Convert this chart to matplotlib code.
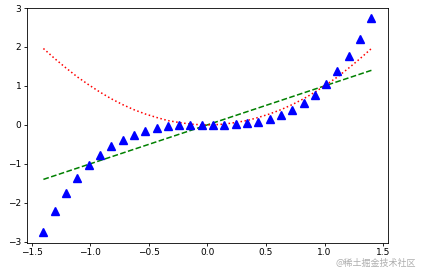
import matplotlib
matplotlib.use('Agg')
import matplotlib.pyplot as plt

# x grid (30 evenly spaced points from -1.4 to 1.4)
x = [-1.4, -1.303, -1.207, -1.110, -1.014, -0.917, -0.821, -0.724, -0.628, -0.531,
     -0.434, -0.338, -0.241, -0.145, -0.048, 0.048, 0.145, 0.241, 0.338, 0.434,
     0.531, 0.628, 0.724, 0.821, 0.917, 1.014, 1.110, 1.207, 1.303, 1.4]
y_line = x  # green dashed line: y equals x
y_square = [1.96, 1.70, 1.46, 1.23, 1.03, 0.84, 0.67, 0.52, 0.39, 0.28,
            0.19, 0.11, 0.06, 0.02, 0.00, 0.00, 0.02, 0.06, 0.11, 0.19,
            0.28, 0.39, 0.52, 0.67, 0.84, 1.03, 1.23, 1.46, 1.70, 1.96]
y_cube = [-2.74, -2.21, -1.76, -1.37, -1.04, -0.77, -0.55, -0.38, -0.25, -0.15,
          -0.08, -0.04, -0.01, 0.00, 0.00, 0.00, 0.00, 0.01, 0.04, 0.08,
          0.15, 0.25, 0.38, 0.55, 0.77, 1.04, 1.37, 1.76, 2.21, 2.74]

fig = plt.figure(figsize=(4.22, 2.76), dpi=100)
ax = fig.add_axes([0.064, 0.12, 0.855, 0.851])

ax.plot(x, y_line, 'g--', linewidth=1.1)
ax.plot(x, y_square, 'r:', linewidth=1.1)
ax.plot(x, y_cube, 'b^', markersize=5.5)

ax.set_xlim(-1.54, 1.54)
ax.set_ylim(-3.03, 3.0)
ax.set_xticks([-1.5, -1.0, -0.5, 0.0, 0.5, 1.0, 1.5])
ax.set_yticks([-3, -2, -1, 0, 1, 2, 3])
ax.tick_params(labelsize=6.5, length=2.5, width=0.6, pad=1.5)
for s in ax.spines.values():
    s.set_linewidth(0.6)

# watermark
fig.text(0.985, 0.03, '@稀土掘金技术社区', ha='right', va='bottom', fontsize=6.5,
         color='#999999', alpha=0.8, family=['Noto Sans CJK SC', 'DejaVu Sans'])

fig.savefig('out.png', dpi=100)
